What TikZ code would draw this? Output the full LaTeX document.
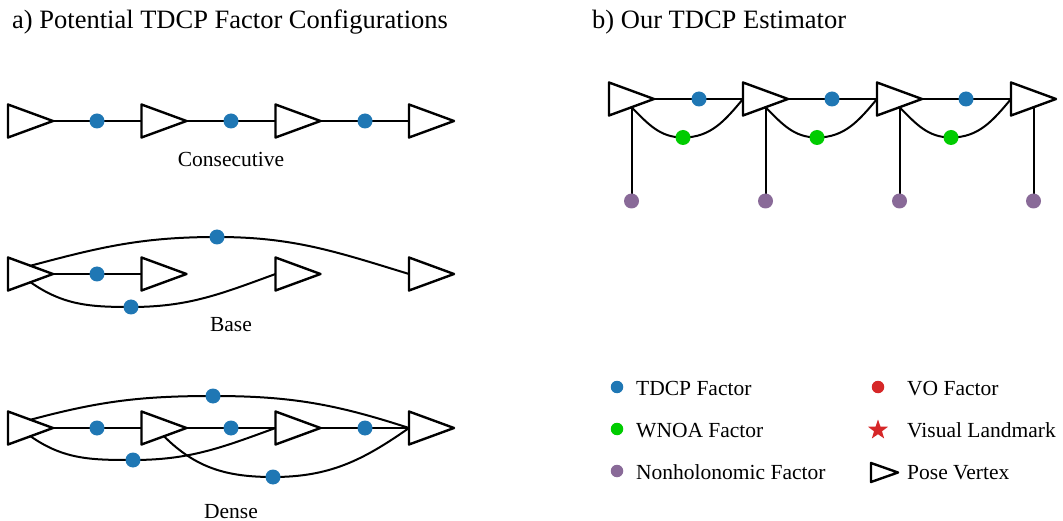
\documentclass[tikz,border=0pt]{standalone}
\usepackage{fontspec}
\setmainfont{Liberation Serif}
\usetikzlibrary{shapes.geometric,positioning,backgrounds}
\definecolor{tdcpblue}{RGB}{31,119,180}
\definecolor{wnoagreen}{RGB}{0,204,0}
\definecolor{nhpurple}{RGB}{137,106,152}
\definecolor{vored}{RGB}{214,39,40}

\begin{document}
\begin{tikzpicture}[x=1pt, y=-1pt, line join=round, line cap=round,
	pose/.style={isosceles triangle, isosceles triangle stretches, shape border rotate=0,
		draw, line width=2.4pt, inner sep=0pt, outer sep=0pt, anchor=lower side,
		minimum width=33pt, minimum height=45pt},
	smallpose/.style={pose, minimum width=19pt, minimum height=27pt},
	factor/.style={circle, inner sep=0pt, minimum size=15pt},
	keydot/.style={circle, inner sep=0pt, minimum size=12.5pt},
	tdcp/.style={factor, fill=tdcpblue},
	wnoa/.style={factor, fill=wnoagreen},
	nonholo/.style={factor, fill=nhpurple},
	link/.style={line width=2pt},
	title/.style={anchor=base west, inner sep=0pt, font=\fontsize{26.5}{32}\selectfont},
	lbl/.style={anchor=base, inner sep=0pt, font=\fontsize{21.5}{26}\selectfont},
	keytext/.style={anchor=base west, inner sep=0pt, font=\fontsize{21.5}{26}\selectfont}]
	\useasboundingbox (0,0) rectangle (1063,521);

	\node[title] (ta) at (12,28.5) {a) Potential TDCP Factor Configurations};
	\node[title] (tb) at (592,28.5) {b) Our TDCP Estimator};

	% a) pose rows
	\foreach \i/\x in {1/8,2/141.5,3/275.5,4/409}{
		\node[pose] (c\i) at (\x,121) {};
		\node[pose] (b\i) at (\x,274) {};
		\node[pose] (d\i) at (\x,428) {};
	}
	\foreach \i/\x in {1/97,2/231,3/365}{
		\node[tdcp] (cd\i) at (\x,121) {};
		\node[tdcp] (dd\i) at (\x,428) {};
	}
	\node[tdcp] (bd1) at (97,274) {};
	\node[tdcp] (bt) at (217,237) {};
	\node[tdcp] (bb) at (131,307) {};
	\node[tdcp] (dt) at (213,396) {};
	\node[tdcp] (db1) at (133,460) {};
	\node[tdcp] (db2) at (273,477) {};

	\node[lbl] (lc) at (231,167) {Consecutive};
	\node[lbl] (lb) at (231,332) {Base};
	\node[lbl] (ld) at (231,518) {Dense};

	% b) estimator
	\foreach \i/\x in {1/609,2/743,3/877,4/1011}{
		\node[pose] (q\i) at (\x,99) {};
		\node[nonholo] (n\i) at (\x+22.5,201) {};
	}
	\foreach \i/\x/\g in {1/699/683,2/832/817,3/966/951}{
		\node[tdcp] (t\i) at (\x,99) {};
		\node[wnoa] (g\i) at (\g,137.5) {};
	}

	% legend
	\node[keydot, fill=tdcpblue] (k1) at (617,387) {};
	\node[keydot, fill=wnoagreen] (k2) at (617,429) {};
	\node[keydot, fill=nhpurple] (k3) at (617,471) {};
	\node[keydot, fill=vored] (k4) at (878,387) {};
	\node[star, star points=5, star point ratio=2.5, fill=vored, inner sep=0pt, minimum size=21pt] (k5) at (878,430) {};
	\node[smallpose] (k6) at (871,472.5) {};
	\node[keytext] (kt1) at (636,395) {TDCP Factor};
	\node[keytext] (kt2) at (636,437) {WNOA Factor};
	\node[keytext] (kt3) at (636,479) {Nonholonomic Factor};
	\node[keytext] (kt4) at (907,395) {VO Factor};
	\node[keytext] (kt5) at (907,437) {Visual Landmark};
	\node[keytext] (kt6) at (907,479) {Pose Vertex};

	\begin{scope}[on background layer]
	\begin{scope}[link]
		\foreach \i/\j in {1/2,2/3,3/4}{
			\draw (c\i.apex) -- (cd\i.center) -- (c\j.lower side);
			\draw (d\i.apex) -- (dd\i.center) -- (d\j.lower side);
			\draw (q\i.apex) -- (t\i.center) -- (q\j.lower side);
			\draw (q\i.right side) to[out=-45,in=180] (g\i.center) to[out=0,in=-130] (q\j.lower side);
		}
		\foreach \i in {1,...,4}
			\draw (q\i.right side) -- (n\i.center);
		\draw (b1.apex) -- (bd1.center) -- (b2.lower side);
		\draw (b1.left side) to[out=15,in=180] (bt.center) to[out=0,in=163] (b4.lower side);
		\draw (b1.right side) to[out=-35,in=180] (bb.center) to[out=0,in=200] (b3.lower side);
		\draw (d1.left side) to[out=15,in=180] (dt.center) to[out=0,in=162] (d4.lower side);
		\draw (d1.right side) to[out=-35,in=180] (db1.center) to[out=0,in=200] (d3.lower side);
		\draw (d2.right side) to[out=-45,in=180] (db2.center) to[out=0,in=215] (d4.lower side);
	\end{scope}
	\end{scope}
\end{tikzpicture}
\end{document}
